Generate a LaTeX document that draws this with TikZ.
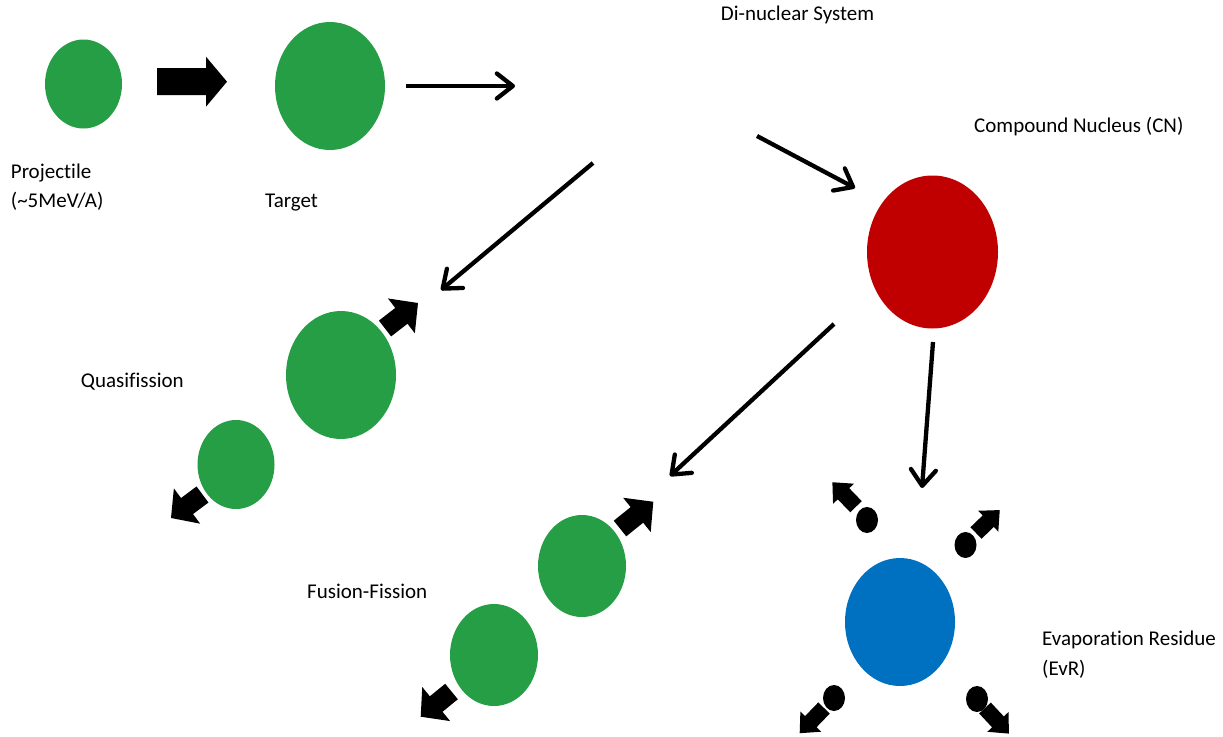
\documentclass[tikz,border=0pt]{standalone}
\usepackage{fontspec}
\setmainfont{Carlito}[Ligatures=NoCommon]
\usetikzlibrary{shapes.geometric,arrows.meta}
\definecolor{nucgreen}{RGB}{37,158,69}
\definecolor{nucred}{RGB}{192,0,0}
\definecolor{nucblue}{RGB}{0,112,192}
\newcommand\blkarrow[7]{\fill[black,shift={(#1,#2)},rotate=#3] (0,{-#5/2}) -- ({#4-#7},{-#5/2}) -- ({#4-#7},{-#6/2}) -- (#4,0) -- ({#4-#7},{#6/2}) -- ({#4-#7},{#5/2}) -- (0,{#5/2}) -- cycle;}
\begin{document}
\begin{tikzpicture}[x=1pt,y=-1pt,
  nucleus/.style={ellipse,inner sep=0pt,draw=none},
  lbl/.style={anchor=base west,inner sep=0pt,font=\fontsize{21}{25}\selectfont},
  flow/.style={line width=4.3pt,-{Straight Barb[length=16pt,width=25pt,round]}}]
\useasboundingbox (0,0) rectangle (1223,736);
% nuclei
\node[nucleus,fill=nucgreen,minimum width=77pt,minimum height=89pt] (proj) at (83.5,84) {};
\node[nucleus,fill=nucgreen,minimum width=110pt,minimum height=128pt] (targ) at (330,86) {};
\node[nucleus,fill=nucred,minimum width=131pt,minimum height=153pt] (cn) at (932.5,252) {};
\node[nucleus,fill=nucgreen,minimum width=110pt,minimum height=128pt] (qfbig) at (341,375) {};
\node[nucleus,fill=nucgreen,minimum width=77pt,minimum height=89pt] (qfsmall) at (236,464.5) {};
\node[nucleus,fill=nucgreen,minimum width=88pt,minimum height=102pt] (ffup) at (582,566) {};
\node[nucleus,fill=nucgreen,minimum width=88pt,minimum height=102pt] (fflow) at (494,655) {};
\node[nucleus,fill=nucblue,minimum width=110pt,minimum height=128pt] (evr) at (900,622) {};
% block arrows
\blkarrow{157}{81.7}{0}{70}{27}{50}{21}
\blkarrow{385}{328.5}{37.7}{41.7}{20}{44}{21}
\blkarrow{202.5}{494.5}{216.7}{39.3}{20}{44}{20}
\blkarrow{620}{528.5}{38.8}{42.7}{20}{44}{21}
\blkarrow{451.5}{691.5}{219.3}{39.8}{20}{44}{20}
\blkarrow{856}{506.7}{134}{34}{16}{29}{16}
\blkarrow{976}{533}{44}{33}{16}{29}{16}
\blkarrow{824}{708}{226}{35}{16}{29}{16}
\blkarrow{985}{708}{-47}{35}{16}{29}{16}
% evaporated particles
\node[nucleus,fill=black,minimum width=22pt,minimum height=26pt] (pul) at (867,520) {};
\node[nucleus,fill=black,minimum width=22pt,minimum height=26pt] (pur) at (965.5,545) {};
\node[nucleus,fill=black,minimum width=22pt,minimum height=26pt] (pll) at (834,698) {};
\node[nucleus,fill=black,minimum width=22pt,minimum height=26pt] (plr) at (977,699) {};
% thin arrows
\coordinate (a1s) at (406,86);  \coordinate (a1e) at (515,86);
\coordinate (a2s) at (593,163); \coordinate (a2e) at (441,290);
\coordinate (a3s) at (757,136); \coordinate (a3e) at (855,188);
\coordinate (a4s) at (834,324); \coordinate (a4e) at (670,476);
\coordinate (a5s) at (933,342); \coordinate (a5e) at (922,488);
\draw[flow] (a1s) -- (a1e);
\draw[flow] (a2s) -- (a2e);
\draw[flow] (a3s) -- (a3e);
\draw[flow] (a4s) -- (a4e);
\draw[flow] (a5s) -- (a5e);
% labels
\node[lbl] (tproj) at (10.7,178) {Projectile};
\node[lbl] (tproj2) at (10.7,207) {(\textasciitilde5MeV/A)};
\node[lbl] (ttarg) at (265,207) {Target};
\node[lbl] (tdns) at (720.7,20) {Di-nuclear System};
\node[lbl] (tcn) at (974,132) {Compound Nucleus (CN)};
\node[lbl] (tqf) at (80.7,387) {Quasifission};
\node[lbl] (tff) at (307,598) {Fusion-Fission};
\node[lbl] (tevr) at (1042,645) {Evaporation Residue};
\node[lbl] (tevr2) at (1042,675) {(EvR)};
\end{tikzpicture}
\end{document}
